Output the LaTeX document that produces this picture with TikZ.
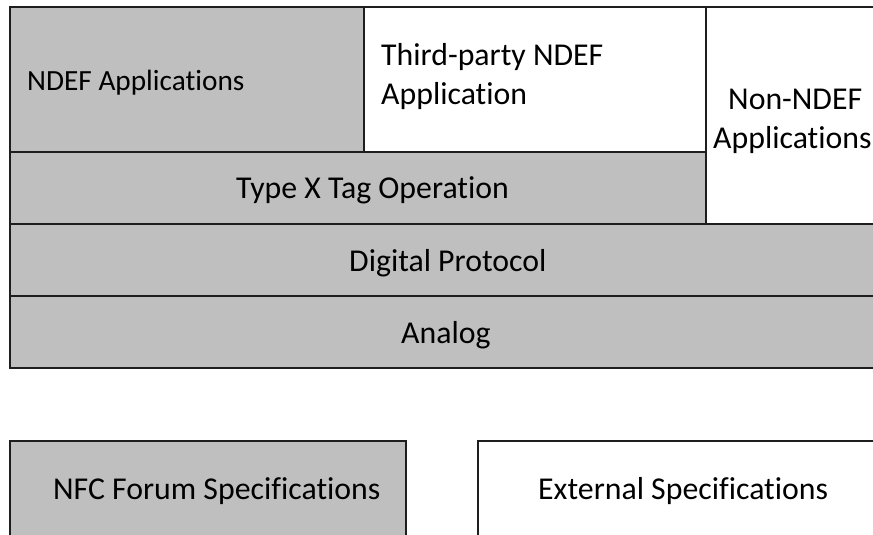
\documentclass[tikz,border=0pt]{standalone}
\usepackage{fontspec}
\setmainfont[RawFeature={-liga}]{Carlito}
\definecolor{boxgray}{HTML}{BFBFBF}
\definecolor{edge}{HTML}{1E1E1E}
\tikzset{
  x=1pt,y=-1pt,
  graybox/.style={fill=boxgray,draw=edge,line width=1.6pt},
  whitebox/.style={fill=white,draw=edge,line width=1.6pt},
  lbl/.style={inner sep=0pt,anchor=base west,font=\fontsize{31.8}{38}\selectfont,text=black},
  lblsmall/.style={inner sep=0pt,anchor=base west,font=\fontsize{29.3}{35}\selectfont,text=black},
}
\begin{document}
\begin{tikzpicture}
\useasboundingbox (0,0) rectangle (873,535);
\clip (0,0) rectangle (873,535);
\fill[white] (0,0) rectangle (873,535);
% stack
\draw[graybox] (10,296) rectangle (920,368);
\draw[graybox] (10,224) rectangle (920,296);
\draw[graybox] (10,152) rectangle (706,224);
\draw[whitebox] (706,7) rectangle (920,224);
\draw[graybox] (10,7) rectangle (364,152);
\draw[whitebox] (364,7) rectangle (706,152);
% legend
\draw[graybox] (10,441) rectangle (406,560);
\draw[whitebox] (478,441) rectangle (920,560);
% labels
\node[lblsmall] (ndef) at (27,90) {NDEF Applications};
\node[lbl] (third1) at (381,66) {Third-party NDEF};
\node[lbl] (third2) at (381,104) {Application};
\node[lbl] (non1) at (728,110) {Non-NDEF};
\node[lbl] (non2) at (713,148) {Applications};
\node[lbl] (typex) at (236,198) {Type X Tag Operation};
\node[lbl] (digital) at (349,271) {Digital Protocol};
\node[lbl] (analog) at (401,343) {Analog};
\node[lbl] (nfc) at (53,499) {NFC Forum Specifications};
\node[lbl] (ext) at (538,499) {External Specifications};
\end{tikzpicture}
\end{document}
